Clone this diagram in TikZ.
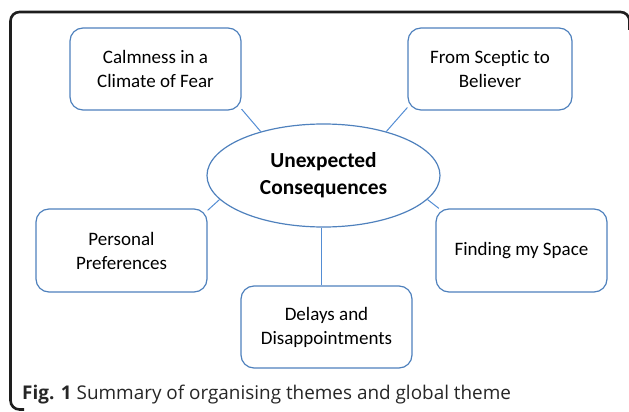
\documentclass[tikz,border=0pt]{standalone}
\usepackage{fontspec}
\setmainfont{Carlito}[Ligatures=NoCommon]
\newfontfamily\capfont{Open Sans}
\usetikzlibrary{shapes.geometric,calc}
\definecolor{boxblue}{RGB}{79,129,189}
\definecolor{linkblue}{RGB}{84,141,212}
\definecolor{framegray}{RGB}{30,30,30}
\tikzset{
  theme/.style={draw=boxblue, line width=1.2pt, rounded corners=13pt, fill=white,
    align=center, inner sep=0pt, font=\fontsize{19}{24}\selectfont},
  link/.style={draw=linkblue, line width=1pt},
}
\begin{document}
\begin{tikzpicture}[x=1pt,y=-1pt]
\useasboundingbox (0,0) rectangle (629,412);
% frame
\draw[framegray, line width=2.6pt, rounded corners=9pt] (629.5,30) -- (629.5,12) -- (10.5,12) -- (10.5,409.5) -- (24,409.5);
% nodes
\node[theme, minimum width=171pt, minimum height=82pt] (calm) at (155.5,69) {Calmness in a\\Climate of Fear};
\node[theme, minimum width=164pt, minimum height=82pt] (scep) at (490,69) {From Sceptic to\\Believer};
\node[theme, minimum width=171pt, minimum height=83pt] (pers) at (121.5,250.5) {Personal\\Preferences};
\node[theme, minimum width=171pt, minimum height=83pt] (find) at (521.5,250.5) {Finding my Space};
\node[theme, minimum width=171pt, minimum height=82pt] (delay) at (326.5,327) {Delays and\\Disappointments};
\node[ellipse, draw=boxblue, line width=1.2pt, fill=white, minimum width=233pt, minimum height=103pt,
  inner sep=0pt, align=center, font=\bfseries\fontsize{21.4}{27}\selectfont] (ell) at (323.5,175.5)
  {Unexpected\\Consequences};
% connectors
\draw[link] (calm.-25) -- (ell.145);
\draw[link] (scep.205) -- (ell.35);
\draw[link] (pers.25) -- (ell.193);
\draw[link] (find.153) -- (ell.-13);
\draw[link] (ell.-92) -- (ell.-92 |- delay.north);
% caption
\node[anchor=base west, inner sep=0pt, font=\capfont\fontsize{18.9}{23}\selectfont, text=black!85] (cap) at (22,399.5)
  {\textbf{Fig. 1} Summary of organising themes and global theme};
\end{tikzpicture}
\end{document}
